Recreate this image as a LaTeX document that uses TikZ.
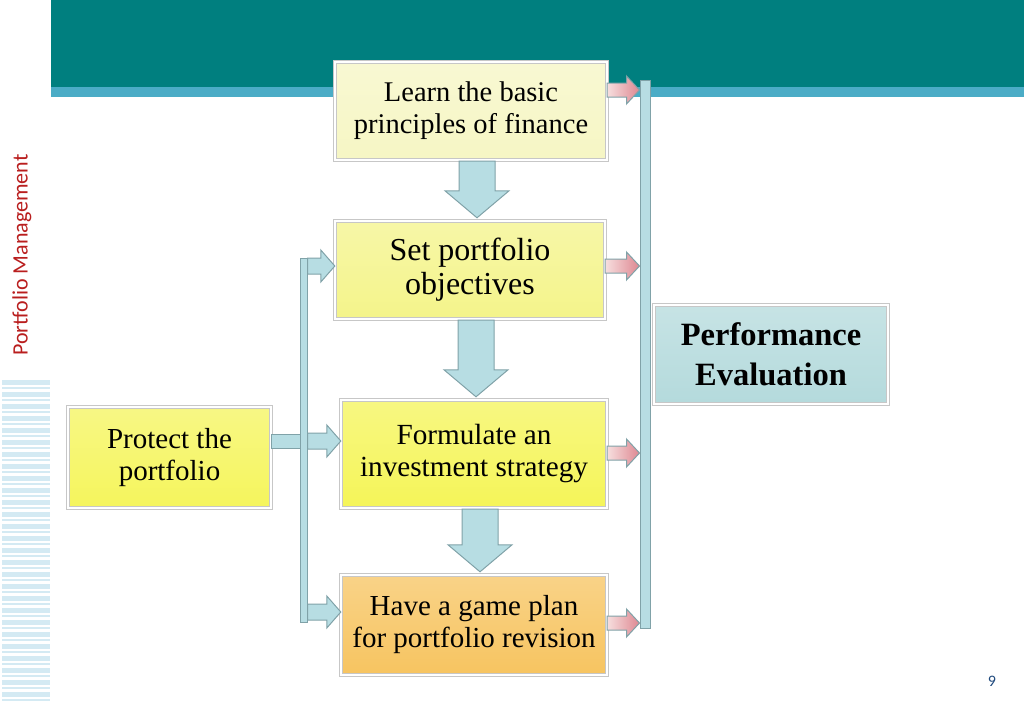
\documentclass[tikz,border=0pt]{standalone}
\usepackage{fontspec}
\setmainfont{Liberation Serif}
\newfontfamily\sidefont{Carlito}
\usetikzlibrary{calc,shadows}

\definecolor{headteal}{RGB}{0,127,127}
\definecolor{headstrip}{RGB}{75,172,198}
\definecolor{learnfill}{RGB}{246,246,196}
\definecolor{setfill}{RGB}{244,244,138}
\definecolor{formfill}{RGB}{245,245,88}
\definecolor{planfill}{RGB}{247,196,96}
\definecolor{protfill}{RGB}{245,245,92}
\definecolor{evalfill}{RGB}{180,218,220}
\definecolor{arrowblue}{RGB}{183,221,227}
\definecolor{arrowline}{RGB}{128,162,168}
\definecolor{pinkleft}{RGB}{246,222,222}
\definecolor{pinkright}{RGB}{222,136,146}
\definecolor{sidered}{RGB}{185,30,30}
\definecolor{pageblue}{RGB}{31,73,125}
\definecolor{stripeblue}{RGB}{212,234,243}

% horizontal block arrow: style, start, end, shaft half, head half, head length
\newcommand{\hblock}[6]{%
  \draw[#1] ($(#2)+(0,-#4)$) -- ($(#3)+(-#6,-#4)$) -- ($(#3)+(-#6,-#5)$) -- (#3)
    -- ($(#3)+(-#6,#5)$) -- ($(#3)+(-#6,#4)$) -- ($(#2)+(0,#4)$) -- cycle;}
% downward block arrow between two boxes
\newcommand{\vblock}[2]{%
  \coordinate (vs) at ($(#1)+(6,1)$);
  \coordinate (vt) at (vs |- #2);
  \coordinate (ve) at ($(vt)+(0,-3)$);
  \draw[blueblock] ($(vs)+(-18,0)$) -- ($(ve)+(-18,-27)$) -- ($(ve)+(-32,-27)$) -- (ve)
    -- ($(ve)+(32,-27)$) -- ($(ve)+(18,-27)$) -- ($(vs)+(18,0)$) -- cycle;}

\begin{document}
\begin{tikzpicture}[x=1pt,y=-1pt,
    box/.style={draw=black!22, double=white, double distance=2.5pt, rectangle,
      align=center, top color=#1!75!white, bottom color=#1, inner sep=2pt,
      drop shadow={shadow xshift=2pt,shadow yshift=-2pt,opacity=0.3}},
    blueblock/.style={draw=arrowline, line width=1pt, fill=arrowblue, line join=miter},
    pinkblock/.style={draw=arrowline, line width=1pt, left color=pinkleft, right color=pinkright},
    bar/.style={draw=arrowline, line width=1pt, fill=arrowblue, inner sep=0pt}]
  \useasboundingbox (0,0) rectangle (1024,709);
  % header
  \fill[headteal] (51,0) rectangle (1024,87);
  \fill[headstrip] (51,87) rectangle (1024,97);
  % side stripes
  \foreach \y in {380,392,...,700}{
    \fill[stripeblue] (2,\y) rectangle (50,\y+5);
    \fill[stripeblue] (2,\y+7) rectangle (50,\y+9);
  }
  \node[rotate=90, text=sidered, font=\sidefont\fontsize{22}{22}\selectfont] (sidetitle) at (22,255) {Portfolio Management};
  \node[text=pageblue, font=\sidefont\fontsize{16}{16}\selectfont] (pagenum) at (992,681) {9};

  % boxes
  \node[box=learnfill, minimum width=272, minimum height=98, font=\fontsize{28.5}{32}\selectfont] (learn) at (471,111) {Learn the basic\\principles of finance};
  \node[box=setfill, minimum width=270, minimum height=98, font=\fontsize{32}{34}\selectfont] (set) at (470,270) {Set portfolio\\objectives};
  \node[box=formfill, minimum width=266, minimum height=108, font=\fontsize{29.2}{32}\selectfont] (form) at (474,454) {Formulate an\\investment strategy};
  \node[box=planfill, minimum width=266, minimum height=100, font=\fontsize{29}{32}\selectfont] (plan) at (474,625) {Have a game plan\\for portfolio revision};
  \node[box=protfill, minimum width=203, minimum height=101, font=\fontsize{29}{32}\selectfont] (protect) at (169.5,457.5) {Protect the\\portfolio};
  \node[box=evalfill, minimum width=234, minimum height=99, font=\bfseries\fontsize{32.5}{40}\selectfont] (eval) at (771,354.5) {Performance\\Evaluation};

  % connector from protect and the two bars
  \draw[blueblock] (protect.east |- 0,434) rectangle (303,448);
  \node[bar, minimum width=7, minimum height=364] (leftbar) at (303.5,440) {};
  \node[bar, minimum width=10, minimum height=548] (evalbar) at (645,354) {};

  % down arrows
  \vblock{learn.south}{set.north}
  \vblock{set.south}{form.north}
  \vblock{form.south}{plan.north}

  % arrows into the boxes
  \hblock{blueblock}{leftbar.east |- 0,266}{set.west |- 0,266}{8}{16}{14}
  \hblock{blueblock}{leftbar.east |- 0,441}{form.west |- 0,441}{8}{16}{14}
  \hblock{blueblock}{leftbar.east |- 0,612}{plan.west |- 0,612}{8}{16}{14}

  % arrows to the evaluation bar
  \hblock{pinkblock}{learn.east |- 0,90}{evalbar.west |- 0,90}{7}{14}{13}
  \hblock{pinkblock}{set.east |- 0,266}{evalbar.west |- 0,266}{7}{14}{13}
  \hblock{pinkblock}{form.east |- 0,453}{evalbar.west |- 0,453}{7}{14}{13}
  \hblock{pinkblock}{plan.east |- 0,623}{evalbar.west |- 0,623}{7}{14}{13}
\end{tikzpicture}
\end{document}
